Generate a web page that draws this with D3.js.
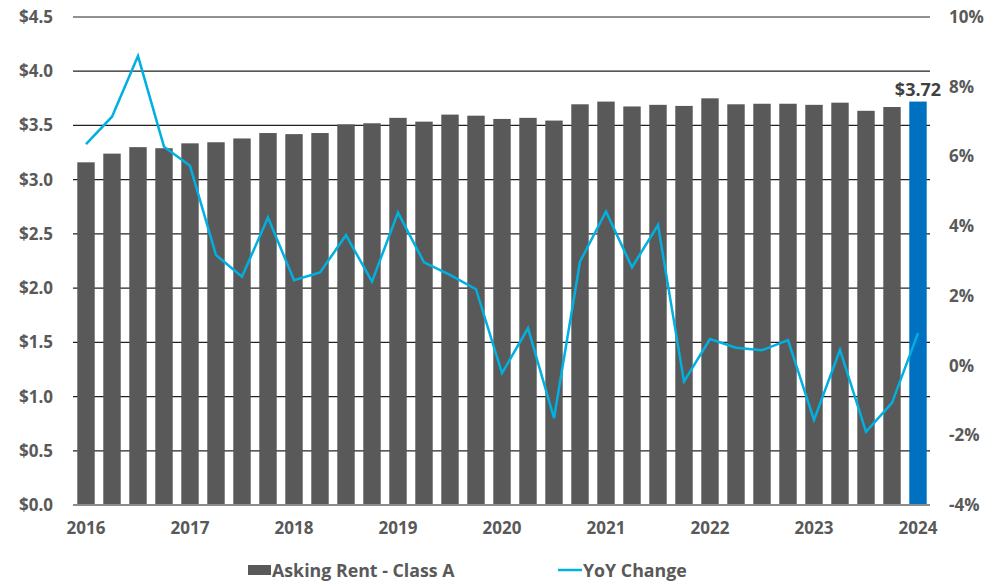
<!DOCTYPE html>
<html><head><meta charset="utf-8">
<script src="https://cdn.jsdelivr.net/npm/d3@7"></script>
<style>body{margin:0;background:#fff}svg{display:block;font-family:'Open Sans',sans-serif;font-weight:700}</style>
</head><body><svg id="c" width="1000" height="582"></svg>
<script>
const quarters = ["2016 Q1","2016 Q2","2016 Q3","2016 Q4","2017 Q1","2017 Q2","2017 Q3","2017 Q4","2018 Q1","2018 Q2","2018 Q3","2018 Q4","2019 Q1","2019 Q2","2019 Q3","2019 Q4","2020 Q1","2020 Q2","2020 Q3","2020 Q4","2021 Q1","2021 Q2","2021 Q3","2021 Q4","2022 Q1","2022 Q2","2022 Q3","2022 Q4","2023 Q1","2023 Q2","2023 Q3","2023 Q4","2024 Q1"];
const askingRent = [3.16,3.24,3.30,3.29,3.335,3.345,3.38,3.43,3.42,3.43,3.51,3.52,3.57,3.535,3.60,3.59,3.56,3.57,3.545,3.695,3.72,3.675,3.69,3.68,3.75,3.695,3.70,3.70,3.69,3.71,3.635,3.67,3.72];
const yoyChange = [6.35,7.14,8.88,6.28,5.73,3.17,2.55,4.25,2.45,2.67,3.74,2.41,4.39,2.96,2.6,2.19,-0.22,1.07,-1.51,2.98,4.42,2.82,4.03,-0.46,0.76,0.51,0.44,0.73,-1.56,0.45,-1.9,-1.07,0.93];
const leftTicks = [0,0.5,1,1.5,2,2.5,3,3.5,4,4.5];
const rightTicks = [-4,-2,0,2,4,6,8,10];
const yearLabels = ["2016","2017","2018","2019","2020","2021","2022","2023","2024"];
const seriesNames = ["Asking Rent - Class A","YoY Change"];
const lastLabel = "$3.72";

const svg = d3.select("#c");
const L=73, R=931, T=17, B=505;
const x = d3.scaleBand().domain(quarters).range([L,R]).paddingInner(0.33).paddingOuter(0.165);
const y = d3.scaleLinear().domain([0,4.5]).range([B,T]);
const y2 = d3.scaleLinear().domain([-4,10]).range([B,T]);
const grey="#595959";

// gridlines
svg.append("g").selectAll("line").data(leftTicks.filter(d=>d>0)).join("line")
  .attr("x1",L).attr("x2",R-1).attr("y1",d=>y(d)).attr("y2",d=>y(d))
  .attr("stroke","#222").attr("stroke-width",1.2);

// bars
svg.append("g").selectAll("rect").data(quarters).join("rect")
  .attr("x",d=>x(d)).attr("width",x.bandwidth())
  .attr("y",(d,i)=>y(askingRent[i])).attr("height",(d,i)=>B-y(askingRent[i]))
  .attr("fill",(d,i)=>i===quarters.length-1?"#0070c0":grey);

// baseline
svg.append("line").attr("x1",L).attr("x2",R-1).attr("y1",B).attr("y2",B).attr("stroke","#8c8c8c").attr("stroke-width",2);

// line
const line = d3.line().x((d,i)=>x(quarters[i])+x.bandwidth()/2).y(d=>y2(d));
svg.append("path").datum(yoyChange).attr("d",line).attr("fill","none").attr("stroke","#00b0e0").attr("stroke-width",2.5).attr("stroke-linejoin","miter");

// left axis
const la = d3.axisLeft(y).tickValues(leftTicks).tickSize(0).tickPadding(0).tickFormat(d=>"$"+d3.format(".1f")(d));
const lg = svg.append("g").attr("transform",`translate(${L-20},0)`).call(la);
lg.select(".domain").remove();
lg.selectAll("text").attr("font-size",17).attr("font-family","'Open Sans',sans-serif").attr("font-weight",700).attr("fill",grey);

// right axis
const ra = d3.axisRight(y2).tickValues(rightTicks).tickSize(0).tickPadding(0).tickFormat(d=>d+"%");
const rg = svg.append("g").attr("transform",`translate(949,0)`).call(ra);
rg.select(".domain").remove();
rg.selectAll("text").attr("font-size",17).attr("font-family","'Open Sans',sans-serif").attr("font-weight",700).attr("fill",grey);

// x axis (year labels under Q1)
const xa = d3.axisBottom(x).tickValues(yearLabels.map(yr=>yr+" Q1")).tickSize(0).tickPadding(0).tickFormat(d=>d.slice(0,4));
const xg = svg.append("g").attr("transform",`translate(0,${B+17})`).call(xa);
xg.select(".domain").remove();
xg.selectAll("text").attr("font-size",17).attr("font-family","'Open Sans',sans-serif").attr("font-weight",700).attr("fill",grey);

// data label
const lq = quarters[quarters.length-1];
svg.append("text").attr("x",x(lq)+x.bandwidth()/2).attr("y",y(askingRent[askingRent.length-1])-6)
  .attr("text-anchor","middle").attr("font-size",18).attr("fill","#404040").text(lastLabel);

// legend
const lgd = svg.append("g");
lgd.append("rect").attr("x",248).attr("y",565).attr("width",23).attr("height",10).attr("fill",grey);
lgd.append("text").attr("x",272).attr("y",577).attr("font-size",17.8).attr("fill",grey).text(seriesNames[0]);
lgd.append("line").attr("x1",558).attr("x2",582).attr("y1",570).attr("y2",570).attr("stroke","#00b0e0").attr("stroke-width",2.5);
lgd.append("text").attr("x",583).attr("y",577).attr("font-size",17.8).attr("fill",grey).text(seriesNames[1]);
</script></body></html>
